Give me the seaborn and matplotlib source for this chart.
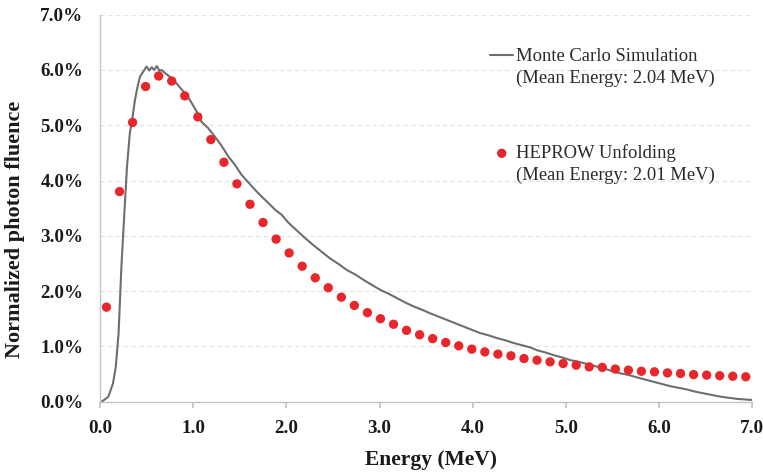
import numpy as np
import pandas as pd
import matplotlib
matplotlib.use("Agg")
import matplotlib.pyplot as plt
from matplotlib.ticker import FuncFormatter, MultipleLocator
from matplotlib.lines import Line2D
import seaborn as sns

# Monte Carlo simulation spectrum (energy MeV, normalized fluence %)
mc_energy = [0.00, 0.02, 0.09, 0.14, 0.17, 0.20, 0.215, 0.23, 0.25, 0.27, 0.29, 0.32,
             0.35, 0.376, 0.40, 0.43, 0.465, 0.50, 0.53, 0.555, 0.58, 0.61, 0.64, 0.66,
             0.70, 0.77, 0.82, 0.88, 0.93, 0.985, 1.04, 1.09, 1.16, 1.235, 1.30, 1.38,
             1.45, 1.52, 1.59, 1.665, 1.74, 1.81, 1.88, 1.95, 2.02, 2.11, 2.20, 2.29,
             2.38, 2.47, 2.56, 2.65, 2.74, 2.83, 2.92, 3.01, 3.10, 3.19, 3.28, 3.37,
             3.46, 3.54, 3.63, 3.72, 3.81, 3.90, 3.99, 4.08, 4.17, 4.26, 4.35, 4.44,
             4.53, 4.62, 4.69, 4.78, 4.87, 4.96, 5.05, 5.14, 5.23, 5.32, 5.41, 5.50,
             5.59, 5.68, 5.76, 5.85, 5.94, 6.03, 6.12, 6.21, 6.30, 6.39, 6.48, 6.57,
             6.66, 6.75, 6.84, 6.92, 7.00]
mc_fluence = [0.00, 0.00, 0.09, 0.33, 0.63, 1.24, 1.84, 2.44, 3.05, 3.65, 4.25, 4.85,
              5.15, 5.46, 5.67, 5.88, 5.97, 6.06, 5.99, 6.05, 6.00, 6.07, 5.98, 6.00,
              5.94, 5.85, 5.76, 5.64, 5.55, 5.40, 5.24, 5.06, 4.95, 4.79, 4.64, 4.43,
              4.28, 4.10, 3.97, 3.83, 3.70, 3.59, 3.47, 3.38, 3.24, 3.10, 2.96, 2.83,
              2.71, 2.59, 2.49, 2.38, 2.30, 2.20, 2.11, 2.02, 1.95, 1.87, 1.79, 1.72,
              1.66, 1.60, 1.54, 1.48, 1.42, 1.36, 1.30, 1.24, 1.20, 1.15, 1.11, 1.06,
              1.02, 0.98, 0.93, 0.89, 0.84, 0.80, 0.75, 0.72, 0.68, 0.64, 0.60, 0.55,
              0.51, 0.48, 0.44, 0.40, 0.36, 0.32, 0.28, 0.25, 0.22, 0.18, 0.15, 0.12,
              0.09, 0.07, 0.05, 0.04, 0.03]

# HEPROW unfolding (bin centers MeV, normalized fluence %)
hep_energy = [0.07, 0.21, 0.35, 0.49, 0.63, 0.77, 0.91, 1.05, 1.19, 1.33,
              1.47, 1.61, 1.75, 1.89, 2.03, 2.17, 2.31, 2.45, 2.59, 2.73,
              2.87, 3.01, 3.15, 3.29, 3.43, 3.57, 3.71, 3.85, 3.99, 4.13,
              4.27, 4.41, 4.55, 4.69, 4.83, 4.97, 5.11, 5.25, 5.39, 5.53,
              5.67, 5.81, 5.95, 6.09, 6.23, 6.37, 6.51, 6.65, 6.79, 6.93]
hep_fluence = [1.71, 3.80, 5.05, 5.70, 5.89, 5.80, 5.53, 5.15, 4.74, 4.33,
               3.94, 3.57, 3.24, 2.94, 2.69, 2.45, 2.24, 2.06, 1.89, 1.74,
               1.61, 1.50, 1.40, 1.29, 1.21, 1.14, 1.07, 1.01, 0.95, 0.90,
               0.86, 0.83, 0.78, 0.75, 0.72, 0.69, 0.66, 0.63, 0.62, 0.59,
               0.57, 0.55, 0.54, 0.52, 0.51, 0.49, 0.48, 0.47, 0.46, 0.45]

mc_name = "Monte Carlo Simulation"
mc_note = "(Mean Energy: 2.04 MeV)"
hep_name = "HEPROW Unfolding"
hep_note = "(Mean Energy: 2.01 MeV)"
x_label = "Energy (MeV)"
y_label = "Normalized photon fluence"

sns.set_theme(style="white")
plt.rcParams["font.family"] = ["Liberation Serif", "DejaVu Serif"]

mc_df = pd.DataFrame({"energy": mc_energy, "fluence": mc_fluence})
hep_df = pd.DataFrame({"energy": hep_energy, "fluence": hep_fluence})

fig = plt.figure(figsize=(7.63, 4.72), dpi=100)
ax = fig.add_axes([0.131, 0.149, 0.855, 0.82])

sns.lineplot(data=mc_df, x="energy", y="fluence", ax=ax, color="#6e6e6e",
             linewidth=1.5, label=mc_name, sort=False)
sns.scatterplot(data=hep_df, x="energy", y="fluence", ax=ax, color="#e8262b",
                s=45, edgecolor="none", label=hep_name, zorder=3)

ax.set_xlim(0, 7.0)
ax.set_ylim(0, 7.0)
ax.xaxis.set_major_locator(MultipleLocator(1.0))
ax.yaxis.set_major_locator(MultipleLocator(1.0))
ax.xaxis.set_major_formatter(FuncFormatter(lambda v, p: f"{v:.1f}"))
ax.yaxis.set_major_formatter(FuncFormatter(lambda v, p: f"{v:.1f}%"))

ax.grid(axis="y", color="#e2e2e2", linestyle=(0, (4, 3)), linewidth=0.8)
ax.grid(axis="x", visible=False)
for side in ["top", "right"]:
    ax.spines[side].set_visible(False)
for side in ["left", "bottom"]:
    ax.spines[side].set_color("#c4c4c4")
    ax.spines[side].set_linewidth(1.0)

ax.tick_params(axis="x", which="major", bottom=True, length=4, color="#c4c4c4",
               labelsize=13.7, labelcolor="#1a1a1a", pad=9)
ax.tick_params(axis="y", which="major", left=False, length=0, labelsize=13.7,
               labelcolor="#1a1a1a", pad=12)
for lab in ax.get_xticklabels() + ax.get_yticklabels():
    lab.set_fontweight("bold")

ax.set_xlabel(x_label, fontsize=15.5, fontweight="bold", color="#1a1a1a")
ax.set_ylabel(y_label, fontsize=16, fontweight="bold", color="#1a1a1a")
ax.xaxis.set_label_coords(0.508, -0.125)
ax.yaxis.set_label_coords(-0.115, 0.446)

# legends: two blocks, handle aligned with first text line
handles, labels = ax.get_legend_handles_labels()
if ax.get_legend() is not None:
    ax.get_legend().remove()
h_map = dict(zip(labels, handles))
blank = Line2D([], [], linestyle="none", marker=None)

leg_kw = dict(loc="upper left", frameon=False, fontsize=13.4, handlelength=1.25,
              handletextpad=0.12, labelspacing=0.22, borderaxespad=0, borderpad=0)
leg1 = ax.legend([h_map[mc_name], blank], [mc_name, mc_note],
                 bbox_to_anchor=(0.598, 0.913), **leg_kw)
for t in leg1.get_texts():
    t.set_color("#2a2a2a")
ax.add_artist(leg1)
leg2 = ax.legend([h_map[hep_name], blank], [hep_name, hep_note],
                 bbox_to_anchor=(0.598, 0.665), **leg_kw)
for t in leg2.get_texts():
    t.set_color("#2a2a2a")

fig.savefig("out.png", dpi=100)
